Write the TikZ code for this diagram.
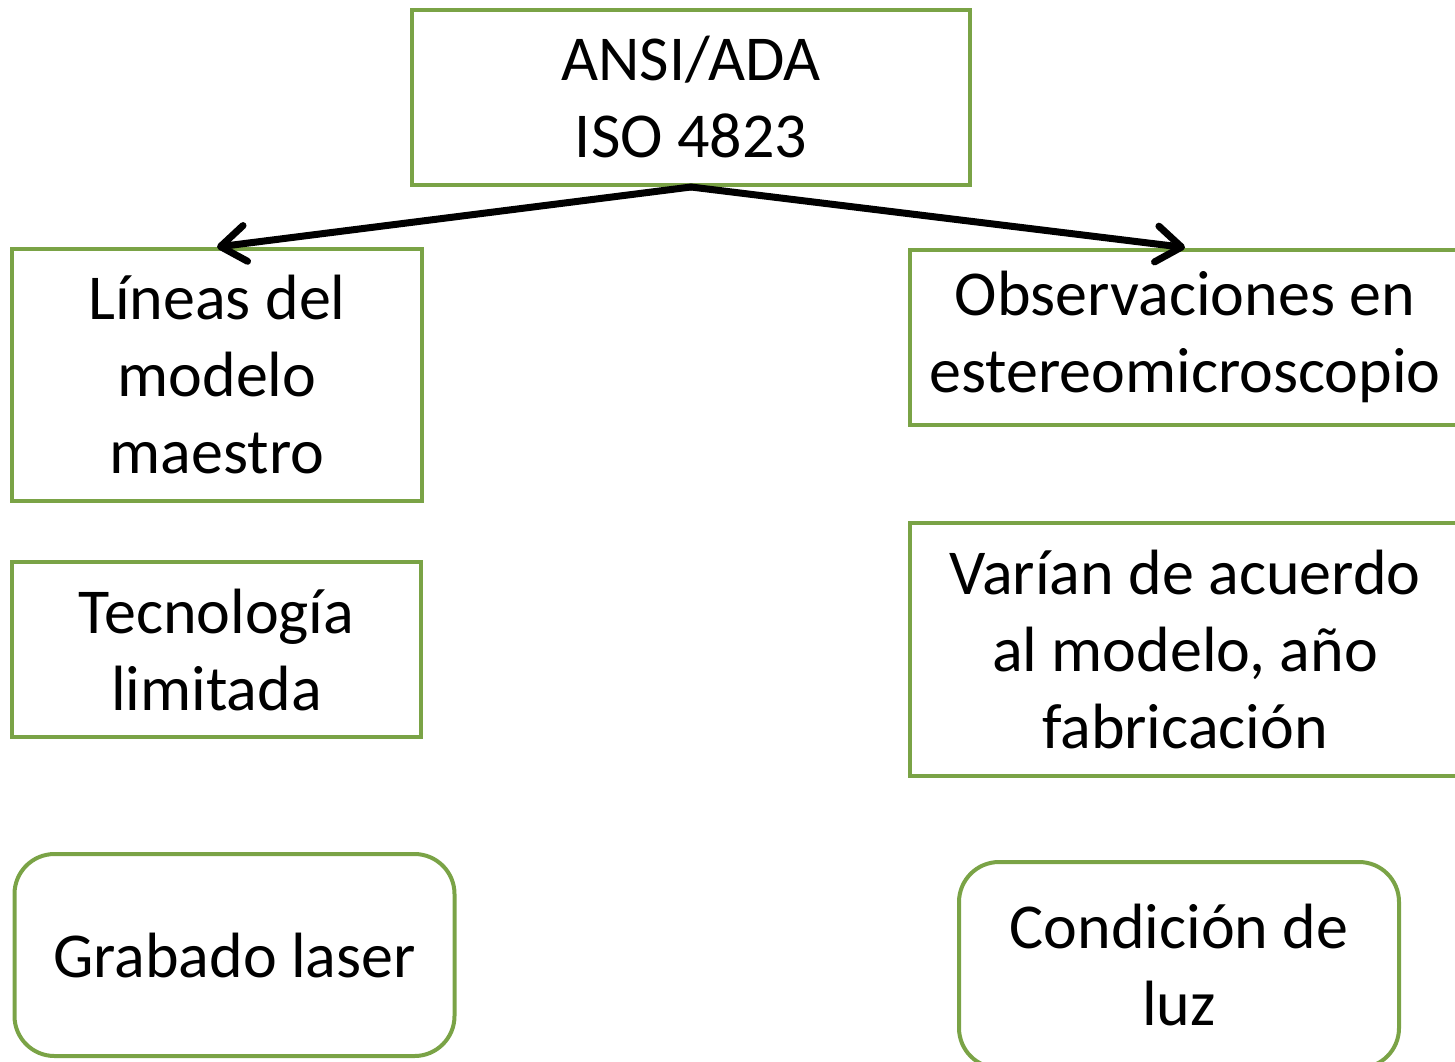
\documentclass[tikz,border=0pt]{standalone}
\usepackage{fontspec}
\setmainfont{Carlito}
\usetikzlibrary{arrows.meta}
\definecolor{boxgreen}{RGB}{122,163,70}
\tikzset{
  box/.style={draw=boxgreen, line width=2pt, inner sep=0pt, align=center,
    font=\fontsize{32}{38.5}\selectfont},
  rbox/.style={box, rounded corners=20pt},
  arr/.style={draw=black, line width=3.5pt, line cap=round,
    -{Straight Barb[length=12.5pt, width=18pt, round, line width=3.5pt]}}
}
\begin{document}
\begin{tikzpicture}[x=0.5pt,y=-0.5pt]
\useasboundingbox (0,0) rectangle (1455,1061);
\clip (0,0) rectangle (1455,1061);
\node[box, minimum width=279pt, minimum height=87.5pt] (top) at (691,97.5) {ANSI/ADA\\ISO 4823};
\node[box, minimum width=205pt, minimum height=126pt] (l1) at (217,375) {Líneas del\\modelo\\maestro};
\node[box, minimum width=204.5pt, minimum height=87.5pt] (l2) at (216.5,649.5) {Tecnología\\limitada};
\node[rbox, minimum width=220pt, minimum height=101pt] (l3) at (234.5,955) {Grabado laser};
\node[box, minimum width=275pt, minimum height=87.5pt] (r1) at (1185,337) {Observaciones en\\estereomicroscopio};
\node[box, minimum width=275pt, minimum height=126.5pt] (r2) at (1185,649.5) {Varían de acuerdo\\al modelo, año\\fabricación};
\node[rbox, minimum width=220pt, minimum height=103pt] (r3) at (1179,965) {Condición de\\luz};
\draw[arr] (top.south) -- (l1.north);
\draw[arr] (top.south) -- (r1.north);
\end{tikzpicture}
\end{document}
